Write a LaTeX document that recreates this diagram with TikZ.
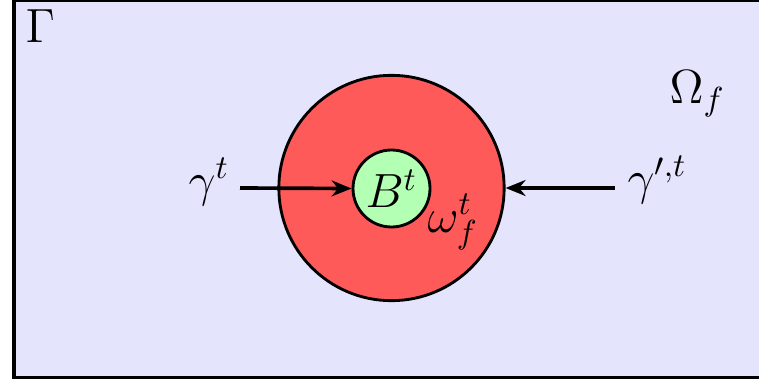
\documentclass[tikz,border=0pt]{standalone}
\usetikzlibrary{arrows.meta}
\definecolor{bgc}{HTML}{E4E4FC}
\definecolor{redc}{HTML}{FF5A5A}
\definecolor{greenc}{HTML}{B3FFB3}
\begin{document}
\begin{tikzpicture}[x=0.3pt,y=-0.3pt,
  lbl/.style={font=\fontsize{13.7}{16}\selectfont, inner sep=0pt},
  disc/.style={circle, draw, line width=0.85pt, inner sep=0pt},
  arr/.style={line width=1.1pt, -{Stealth[length=6pt,width=4.8pt]}}]
\useasboundingbox (0,0) rectangle (759,385);
\begin{scope}
\clip (0,0) rectangle (759,385);
\draw[fill=bgc, line width=1pt] (14,0) rectangle (800,377.5);
\end{scope}
\node[disc, fill=redc, minimum size=67.6pt] (outer) at (391.5,188) {};
\node[disc, fill=greenc, minimum size=23.1pt] (inner) at (391.5,188.5) {};
\node[lbl] (B) at (inner.center) {$B^t$};
\coordinate (ls) at (240,188);
\coordinate (rs) at (615,188);
\draw[arr] (ls) -- (inner.west);
\draw[arr] (rs) -- (outer.east);
\node[lbl, anchor=base west] (G) at (25,42) {$\Gamma$};
\node[lbl, anchor=base east] (gl) at (230,196) {$\gamma^t$};
\node[lbl, anchor=base west] (gr) at (627,194) {$\gamma^{\prime,t}$};
\node[lbl, anchor=base west] (om) at (427,232) {$\omega_f^t$};
\node[lbl, anchor=base west] (Om) at (669,103) {$\Omega_f$};
\end{tikzpicture}
\end{document}
